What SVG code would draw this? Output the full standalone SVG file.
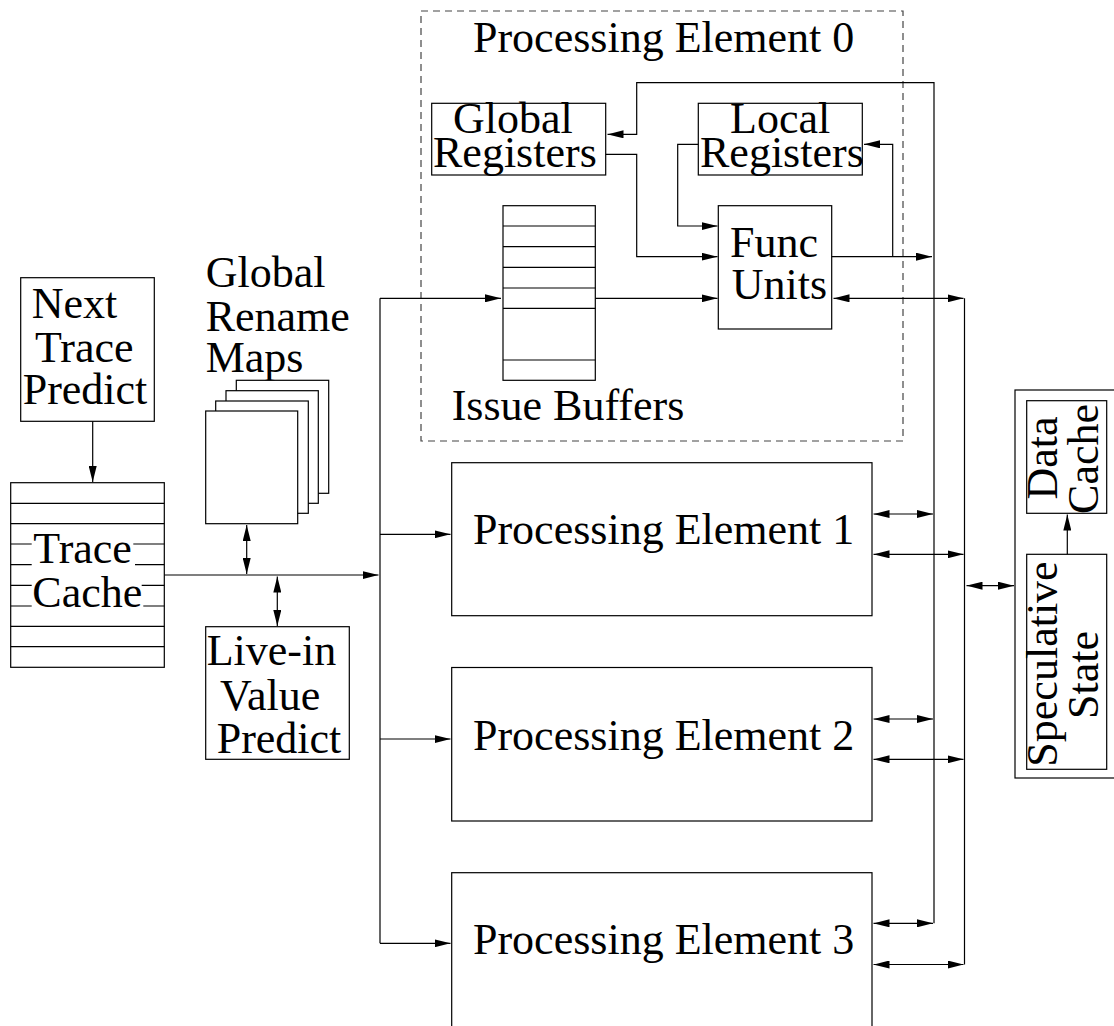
<svg xmlns="http://www.w3.org/2000/svg" width="1114" height="1026" viewBox="0 0 1114 1026">
<style>
  .box{fill:#fff;stroke:#000;stroke-width:1.2}
  .ln{fill:none;stroke:#000;stroke-width:1.2}
  .dash{fill:none;stroke:#444;stroke-width:1.2;stroke-dasharray:7 5}
  .t{font-family:"Liberation Serif","Times New Roman",serif;font-size:44px;fill:#000}
  .c{text-anchor:middle}
</style>
<defs>
  <marker id="ah" markerWidth="16" markerHeight="8" refX="16" refY="4" orient="auto-start-reverse" markerUnits="userSpaceOnUse" viewBox="0 0 16 8">
    <path d="M0,0 L16,4 L0,8 z" fill="#000"/>
  </marker>
</defs>

<g id="pe0">
  <rect class="dash" x="421" y="11" width="482" height="430"/>
  <text class="t" x="473" y="52">Processing Element 0</text>
</g>
<g id="global-registers">
  <rect class="box" x="431.7" y="103.3" width="174" height="71.7"/>
  <text class="t" x="453" y="133.3">Global</text>
  <text class="t" x="433" y="166.7">Registers</text>
</g>
<g id="local-registers">
  <rect class="box" x="698.3" y="103.3" width="164" height="71.7"/>
  <text class="t" x="730" y="133.3">Local</text>
  <text class="t" x="700" y="166.7">Registers</text>
</g>
<g id="issue-buffers">
  <rect class="box" x="503" y="205.7" width="92.3" height="174.6"/>
  <path class="ln" d="M503,226H595.3M503,246.7H595.3M503,267.3H595.3M503,288H595.3M503,308.3H595.3M503,360H595.3"/>
  <text class="t" x="451.7" y="420">Issue Buffers</text>
</g>
<g id="func-units">
  <rect class="box" x="718.3" y="205.7" width="113.4" height="123.3"/>
  <text class="t" x="730" y="256.7">Func</text>
  <text class="t" x="731.7" y="299.3">Units</text>
</g>
<g id="next-trace-predict">
  <rect class="box" x="20.7" y="277.7" width="133.6" height="143.6"/>
  <text class="t" x="31.7" y="318.3">Next</text>
  <text class="t" x="35" y="361.7">Trace</text>
  <text class="t" x="22.7" y="404">Predict</text>
</g>
<g id="trace-cache">
  <rect class="box" x="10.7" y="482.7" width="153.6" height="184.6"/>
  <path class="ln" d="M10.7,503.3H164.3M10.7,523.7H164.3M10.7,626.3H164.3M10.7,646.7H164.3
    M10.7,544H31.7M133.3,544H164.3M10.7,564.7H31.7M135,564.7H164.3
    M10.7,585.3H31.7M141.7,585.3H164.3M10.7,606H31.7M143.3,606H164.3"/>
  <text class="t" x="33.3" y="563.3">Trace</text>
  <text class="t" x="32.3" y="606.7">Cache</text>
</g>
<g id="global-rename-maps">
  <text class="t" x="205.7" y="286.7">Global</text>
  <text class="t" x="205.7" y="330.7">Rename</text>
  <text class="t" x="205.7" y="371.7">Maps</text>
  <rect class="box" x="236.3" y="380.3" width="92.4" height="113"/>
  <rect class="box" x="226" y="390.7" width="92.3" height="112.6"/>
  <rect class="box" x="215.7" y="401" width="92.6" height="112.3"/>
  <rect class="box" x="205.7" y="411" width="92" height="112.7"/>
</g>
<g id="live-in-value-predict">
  <rect class="box" x="205.7" y="626.7" width="143.6" height="132.6"/>
  <text class="t" x="206.7" y="665">Live-in</text>
  <text class="t" x="220" y="710">Value</text>
  <text class="t" x="216.7" y="753.3">Predict</text>
</g>
<g id="pe1">
  <rect class="box" x="451.7" y="462.7" width="420.3" height="153"/>
  <text class="t" x="473" y="544.3">Processing Element 1</text>
</g>
<g id="pe2">
  <rect class="box" x="451.7" y="667.5" width="420.3" height="153.5"/>
  <text class="t" x="473" y="749.5">Processing Element 2</text>
</g>
<g id="pe3">
  <rect class="box" x="451.7" y="872.7" width="420.3" height="160"/>
  <text class="t" x="473" y="954.3">Processing Element 3</text>
</g>
<g id="memory">
  <rect class="box" x="1015" y="390" width="110" height="388"/>
</g>
<g id="data-cache">
  <rect class="box" x="1026.7" y="400.7" width="80" height="112.6"/>
  <text class="t c" transform="translate(1056.7,458) rotate(-90)">Data</text>
  <text class="t c" transform="translate(1098.3,459) rotate(-90)">Cache</text>
</g>
<g id="speculative-state">
  <rect class="box" x="1026.7" y="554.3" width="80" height="215"/>
  <text class="t c" transform="translate(1056.7,664) rotate(-90)">Speculative</text>
  <text class="t c" transform="translate(1098.3,675) rotate(-90)">State</text>
</g>

<g id="connectors">
  <path class="ln" d="M92.7,421.3V482" marker-end="url(#ah)"/>
  <path class="ln" d="M164.3,575H378.5" marker-end="url(#ah)"/>
  <path class="ln" d="M246.7,525V574" marker-start="url(#ah)" marker-end="url(#ah)"/>
  <path class="ln" d="M277.3,576.5V626" marker-start="url(#ah)" marker-end="url(#ah)"/>
  <path class="ln" d="M380,298.3V943.3"/>
  <path class="ln" d="M380,298.3H501" marker-end="url(#ah)"/>
  <path class="ln" d="M380,534.3H450.5" marker-end="url(#ah)"/>
  <path class="ln" d="M380,739H450.5" marker-end="url(#ah)"/>
  <path class="ln" d="M380,943.3H450.5" marker-end="url(#ah)"/>
  <path class="ln" d="M595.3,298.3H717.5" marker-end="url(#ah)"/>
  <path class="ln" d="M605.7,154.3H636.7V256.7H717.5" marker-end="url(#ah)"/>
  <path class="ln" d="M698.3,144.3H677.7V226H717.5" marker-end="url(#ah)"/>
  <path class="ln" d="M831.7,256.7H932" marker-end="url(#ah)"/>
  <path class="ln" d="M892.7,256.7V144.3H864" marker-end="url(#ah)"/>
  <path class="ln" d="M934,923.3V82.7H636.7V134.3H607.5" marker-end="url(#ah)"/>
  <path class="ln" d="M964.5,298.3V964.5"/>
  <path class="ln" d="M833.5,298.3H963.5" marker-start="url(#ah)" marker-end="url(#ah)"/>
  <path class="ln" d="M873.5,514H933" marker-start="url(#ah)" marker-end="url(#ah)"/>
  <path class="ln" d="M873.5,554.3H963.5" marker-start="url(#ah)" marker-end="url(#ah)"/>
  <path class="ln" d="M873.5,719H933" marker-start="url(#ah)" marker-end="url(#ah)"/>
  <path class="ln" d="M873.5,759.3H963.5" marker-start="url(#ah)" marker-end="url(#ah)"/>
  <path class="ln" d="M873.5,923.3H933" marker-start="url(#ah)" marker-end="url(#ah)"/>
  <path class="ln" d="M873.5,964.5H963.5" marker-start="url(#ah)" marker-end="url(#ah)"/>
  <path class="ln" d="M966.5,585.7H1014" marker-start="url(#ah)" marker-end="url(#ah)"/>
  <path class="ln" d="M1067.3,554.3V514.5" marker-end="url(#ah)"/>
</g>
</svg>
